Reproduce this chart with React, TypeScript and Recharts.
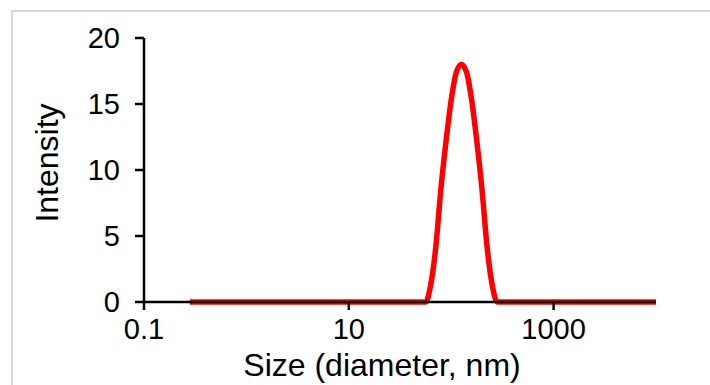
import React from "react";
import { LineChart, Line, XAxis, YAxis, Label } from "recharts";

// size bins (nm) and intensity (%)
const sizes = [
  0.28, 1, 10, 50.1, 56.2, 63.1, 70.8, 79.4, 89.1, 100, 112.2, 125.9, 141.3,
  158.5, 177.8, 199.5, 223.9, 251.2, 281.8, 316.2, 1000, 10000,
];
const intensity = [
  0, 0, 0, 0, 0, 1.3, 4.2, 8.6, 12.2, 15.3, 17.4, 18.0, 17.4, 15.3, 12.2, 8.6,
  4.2, 1.3, 0, 0, 0, 0,
];
const xTicks = [0.1, 10, 1000];
const yTicks = [0, 5, 10, 15, 20];

const data = sizes.map((s, i) => ({ size: s, intensity: intensity[i] }));

const FONT = "'Liberation Sans', Arial, sans-serif";
const tickStyle = { fontSize: 29, fill: "#000", fontFamily: FONT };

export default function App() {
  return (
    <div style={{ position: "fixed", left: 0, top: 0, width: 710, height: 385, background: "#fff" }}>
      <div
        style={{
          position: "absolute",
          left: 11,
          top: 10,
          width: 720,
          height: 400,
          border: "2px solid #d9d9d9",
        }}
      />
      <LineChart
        width={710}
        height={385}
        data={data}
        margin={{ top: 38, right: 54, left: 0, bottom: 0 }}
        style={{ position: "absolute", left: 0, top: 0 }}
      >
        <XAxis
          dataKey="size"
          type="number"
          scale="log"
          domain={[0.1, 10000]}
          ticks={xTicks}
          allowDataOverflow
          height={83}
          stroke="#000"
          strokeWidth={2.5}
          tickSize={8}
          tickMargin={8}
          tick={tickStyle}
          tickFormatter={(v: number) => String(v)}
        >
          <Label
            content={() => (
              <text x={382} y={376} textAnchor="middle" fontSize={32} fontFamily={FONT} fill="#000">
                Size (diameter, nm)
              </text>
            )}
          />
        </XAxis>
        <YAxis
          type="number"
          domain={[0, 20]}
          ticks={yTicks}
          width={144}
          stroke="#000"
          strokeWidth={2.5}
          tickSize={9}
          tickMargin={15}
          tick={tickStyle}
        >
          <Label
            content={() => (
              <text
                x={47}
                y={163}
                transform="rotate(-90 47 163)"
                textAnchor="middle"
                dominantBaseline="central"
                fontSize={32}
                fontFamily={FONT}
                fill="#000"
              >
                Intensity
              </text>
            )}
          />
        </YAxis>
        <Line
          dataKey="intensity"
          type="monotone"
          stroke="#ff0000"
          strokeWidth={5.5}
          dot={false}
          isAnimationActive={false}
        />
      </LineChart>
    </div>
  );
}
